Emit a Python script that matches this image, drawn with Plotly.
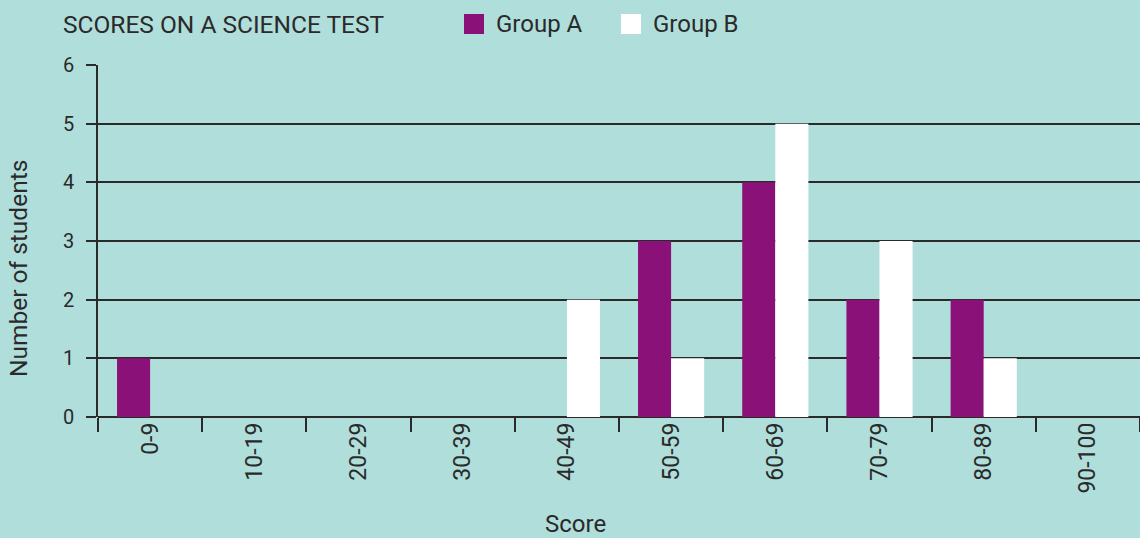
import plotly.graph_objects as go

categories = ["0-9", "10-19", "20-29", "30-39", "40-49", "50-59", "60-69", "70-79", "80-89", "90-100"]
group_a = [1, 0, 0, 0, 0, 3, 4, 2, 2, 0]
group_b = [0, 0, 0, 0, 2, 1, 5, 3, 1, 0]
series_names = ["Group A", "Group B"]
colors = ["#8a1177", "#ffffff"]
title_text = "SCORES ON A SCIENCE TEST"
x_title = "Score"
y_title = "Number of students"

BG = "#b0dedb"
INK = "#2a2a2a"
FONT = "Roboto"

W, H = 1140, 538
L, R, T, B = 98, 0, 65, 121
PW, PH = W - L - R, H - T - B


def px(x):
    return (x - L) / PW


def py(y):
    return (H - B - y) / PH


fig = go.Figure()
for name, vals, col in zip(series_names, [group_a, group_b], colors):
    fig.add_trace(go.Bar(x=categories, y=vals, name=name, marker_color=col,
                         marker_line_width=0, showlegend=False))

fig.update_layout(
    width=W, height=H,
    margin=dict(l=L, r=R, t=T, b=B, pad=0),
    paper_bgcolor=BG, plot_bgcolor=BG,
    font=dict(family=FONT, size=20, color=INK),
    barmode="group", bargap=0.365, bargroupgap=0,
    title=dict(text=title_text, x=63 / W, xanchor="left", y=1 - 24 / H, yanchor="middle",
               font=dict(family=FONT, size=24.5, color=INK)),
)
fig.update_xaxes(
    type="category", range=[-0.5, 9.5], showgrid=False,
    tickson="boundaries", ticks="outside", ticklen=14, tickwidth=1.5, tickcolor=INK,
    tickangle=-90, showline=False, tickfont=dict(size=23),
)
fig.update_yaxes(
    range=[0, 6], dtick=1, showgrid=True, gridcolor=INK, gridwidth=1.5,
    zeroline=True, zerolinecolor=INK, zerolinewidth=1.5,
    showline=True, linecolor=INK, linewidth=1.5,
    ticks="outside", ticklen=10, tickwidth=1.5, tickcolor=INK,
    ticklabelstandoff=8, tickfont=dict(size=20),
)

# legend drawn manually
legend_items = [(464, series_names[0], colors[0]), (621, series_names[1], colors[1])]
for x0, name, col in legend_items:
    fig.add_shape(type="rect", xref="paper", yref="paper",
                  x0=px(x0), x1=px(x0 + 20), y0=py(34), y1=py(14),
                  fillcolor=col, line_width=0)
    fig.add_annotation(xref="paper", yref="paper", x=px(x0 + 30), y=py(24),
                       text=name, showarrow=False, xanchor="left", yanchor="middle",
                       font=dict(family=FONT, size=24, color=INK))

fig.add_annotation(xref="paper", yref="paper", x=px(18), y=py(269), text=y_title,
                   textangle=-90, showarrow=False, xanchor="center", yanchor="middle",
                   font=dict(family=FONT, size=24.5, color=INK))
fig.add_annotation(xref="paper", yref="paper", x=px(575), y=py(524), text=x_title,
                   showarrow=False, xanchor="center", yanchor="middle",
                   font=dict(family=FONT, size=24, color=INK))

fig.write_html("out.html", config={"displayModeBar": False},
               post_script="document.body.style.margin='0';document.body.style.overflow='hidden';")
